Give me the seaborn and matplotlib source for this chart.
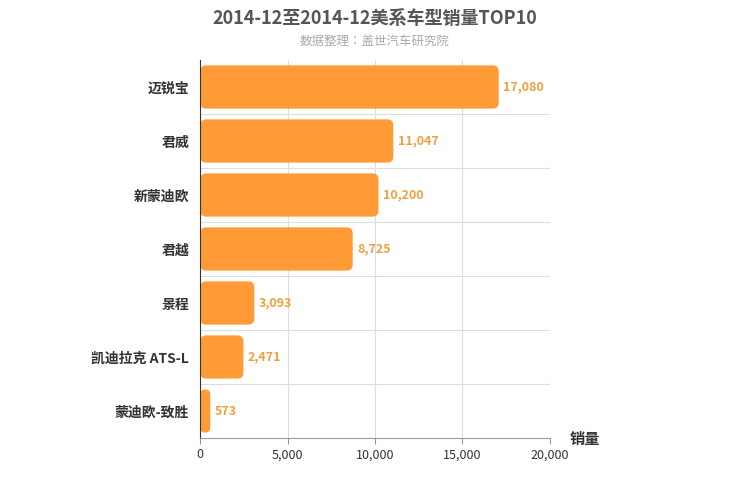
import matplotlib
matplotlib.use("Agg")
import matplotlib.pyplot as plt
from matplotlib import font_manager
import seaborn as sns
import pandas as pd
from matplotlib.patches import FancyBboxPatch

# find a CJK sans font by file
cjk = [f for f in font_manager.findSystemFonts() if 'cjk' in f.lower() and 'sans' in f.lower()]
cjk.sort(key=lambda f: ('bold' in f.lower(), len(f)))
if cjk:
    for f in cjk:
        font_manager.fontManager.addfont(f)
    name = font_manager.FontProperties(fname=cjk[0]).get_name()
    plt.rcParams['font.family'] = [name, 'DejaVu Sans']

models = ['迈锐宝', '君威', '新蒙迪欧', '君越', '景程', '凯迪拉克 ATS-L', '蒙迪欧-致胜']
sales = [17080, 11047, 10200, 8725, 3093, 2471, 573]
xticks = [0, 5000, 10000, 15000, 20000]

df = pd.DataFrame({'model': models, 'sales': sales})
color = '#FF9B36'

fig = plt.figure(figsize=(7.5, 5), dpi=100)
ax = fig.add_axes([0.267, 0.124, 0.466, 0.756])
sns.barplot(data=df, x='sales', y='model', color=color, width=0.8, ax=ax, saturation=1)

# swap plain bars for rounded ones
x_per_px = 20000 / 350
y_per_px = 7 / 378
for p in list(ax.patches):
    x0, y0, w, h = p.get_x(), p.get_y(), p.get_width(), p.get_height()
    p.remove()
    r = min(6 * x_per_px, w / 2)
    ax.add_patch(FancyBboxPatch((x0, y0), w, h, boxstyle=f"round,pad=0,rounding_size={r}",
                                mutation_aspect=y_per_px / x_per_px, fc=color, ec='none'))

for i, v in enumerate(sales):
    ax.text(v + 250, i, f'{v:,}', va='center', ha='left', color='#F0A040', fontsize=9, fontweight='bold')

ax.set_xlim(0, 20000)
ax.set_ylim(len(models) - 0.5, -0.5)
ax.set_xticks(xticks)
ax.set_xticklabels([f'{t:,}' for t in xticks], fontsize=9, color='#333333')
ax.tick_params(axis='y', labelsize=10, colors='#333333', length=0, pad=8)
for lbl in ax.get_yticklabels():
    lbl.set_fontweight('bold')
ax.tick_params(axis='x', length=4, color='#999999')
ax.set_xlabel('')
ax.set_ylabel('')
ax.grid(True, axis='x', color='#dddddd', linewidth=0.8)
ax.set_yticks([i + 0.5 for i in range(len(models) - 1)], minor=True)
ax.grid(True, which='minor', axis='y', color='#dddddd', linewidth=0.8)
ax.tick_params(axis='y', which='minor', length=0)
ax.set_axisbelow(True)
for s in ['top', 'right']:
    ax.spines[s].set_visible(False)
ax.spines['left'].set_color('#333333')
ax.spines['bottom'].set_color('#999999')

fig.text(0.5, 0.963, '2014-12至2014-12美系车型销量TOP10', ha='center', va='center',
         fontsize=13, fontweight='bold', color='#555555')
fig.text(0.5, 0.918, '数据整理：盖世汽车研究院', ha='center', va='center', fontsize=9, color='#aaaaaa')
fig.text(0.78, 0.122, '销量', ha='center', va='center', fontsize=11, fontweight='bold', color='#333333')

fig.savefig('out.png', dpi=100)
